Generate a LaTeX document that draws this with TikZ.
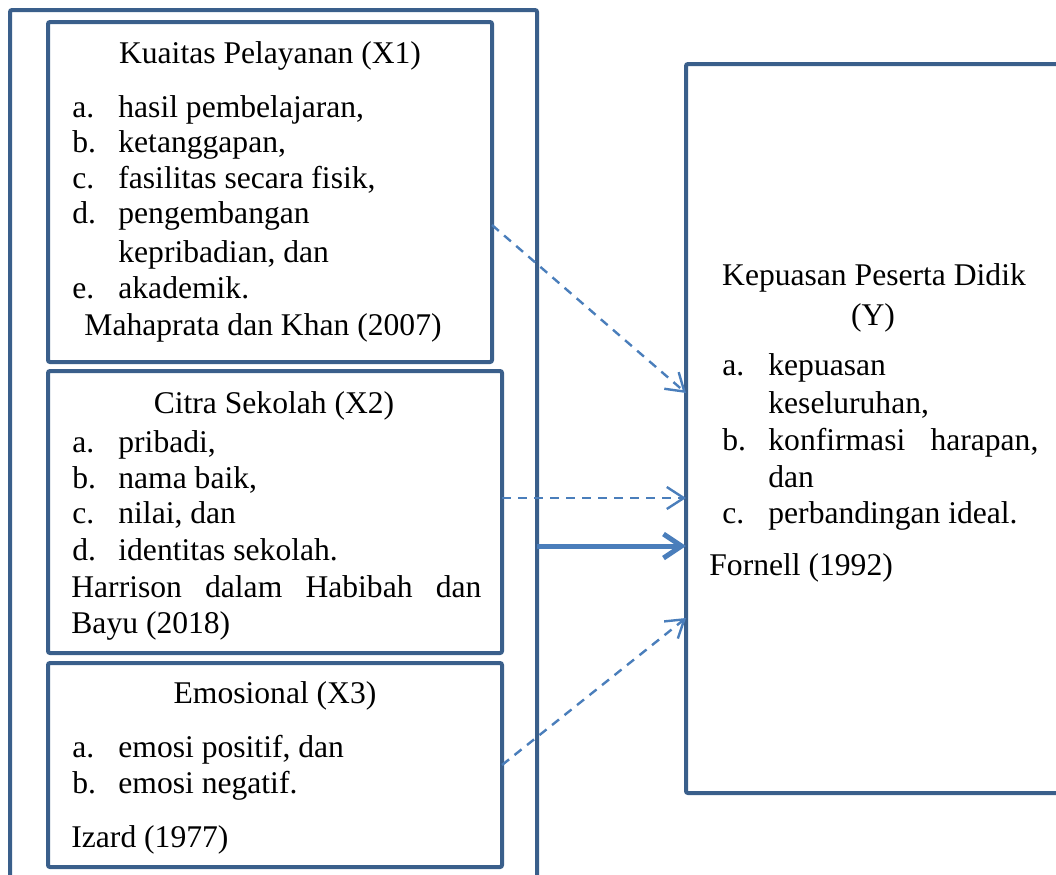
\documentclass[tikz,border=0pt]{standalone}
\usepackage{fontspec}
\setmainfont{Liberation Serif}
\usepackage{xcolor}
\usepackage{tikz}
\usetikzlibrary{arrows.meta}
\definecolor{boxblue}{HTML}{3A5F8B}
\definecolor{arrblue}{HTML}{4A7EBB}
\tikzset{
  box/.style={draw=boxblue, line width=2pt, rounded corners=1pt, rectangle, inner sep=0pt, outer sep=0pt, anchor=north west},
  txt/.style={anchor=base west, inner sep=0pt, font=\fontsize{15.8}{19}\selectfont},
  ttl/.style={anchor=base, inner sep=0pt, font=\fontsize{15.8}{19}\selectfont},
  dashlink/.style={draw=arrblue, line width=1.2pt, dash pattern=on 4.5pt off 3.5pt, -{Straight Barb[length=8.5pt,width=11pt,line width=1.2pt]}},
  mainlink/.style={draw=arrblue, line width=2.5pt, -{Straight Barb[length=9pt,width=12pt,line width=2.5pt]}}
}
\begin{document}
\begin{tikzpicture}[x=0.5pt, y=-0.5pt]
		\useasboundingbox (0,0) rectangle (1056,874);
		\clip (0,0) rectangle (1056,874);
		\node[box, minimum width=263.5pt, minimum height=445pt] (outer) at (10,10) {};
		\node[box, minimum width=222pt, minimum height=170pt] (x1) at (48,22) {};
		\node[box, minimum width=227pt, minimum height=141pt] (x2) at (48,371) {};
		\node[box, minimum width=227pt, minimum height=102pt] (x3) at (48,663) {};
		\node[box, minimum width=207pt, minimum height=364.5pt] (y) at (686,64) {};
		\node[ttl] (x1h) at (270,63) {Kuaitas Pelayanan (X1)};
		\foreach \lab/\itm/\yy [count=\i] in {a./{hasil pembelajaran,}/117, b./{ketanggapan,}/152, c./{fasilitas secara fisik,}/188, d./pengembangan/223, /{kepribadian, dan}/262, e./akademik./298} {
			\node[txt] (x1l\i) at (72,\yy) {\lab};
			\node[txt] (x1t\i) at (118,\yy) {\itm};
		}
		\node[ttl] (x1s) at (263,335) {Mahaprata dan Khan (2007)};
		\node[ttl] (x2h) at (274,413) {Citra Sekolah (X2)};
		\foreach \lab/\itm/\yy [count=\i] in {a./{pribadi,}/452, b./{nama baik,}/488, c./{nilai, dan}/523, d./identitas sekolah./560} {
			\node[txt] (x2l\i) at (72,\yy) {\lab};
			\node[txt] (x2t\i) at (118,\yy) {\itm};
		}
		\node[txt] (x2s) at (71,597) {\makebox[205pt][s]{Harrison dalam Habibah dan}};
		\node[txt] (x2s2) at (71,633) {Bayu (2018)};
		\node[ttl] (x3h) at (275,703) {Emosional (X3)};
		\node[txt] (x3l1) at (72,757) {a.};
		\node[txt] (x3t1) at (118,757) {emosi positif, dan};
		\node[txt] (x3l2) at (72,793) {b.};
		\node[txt] (x3t2) at (118,793) {emosi negatif.};
		\node[txt] (x3s) at (71,847) {Izard (1977)};
		\node[ttl] (yh) at (874,285) {Kepuasan Peserta Didik};
		\node[ttl] (yh2) at (873,325) {(Y)};
		\foreach \lab/\itm/\yy [count=\i] in {a./kepuasan/375, /{keseluruhan,}/413, b./{\makebox[135pt][s]{konfirmasi harapan,}}/450, /dan/487, c./perbandingan ideal./523} {
			\node[txt] (yl\i) at (722,\yy) {\lab};
			\node[txt] (yt\i) at (768,\yy) {\itm};
		}
		\node[txt] (ys) at (709,575) {Fornell (1992)};
		\draw[dashlink] ([yshift=-16.5pt]x1.east) -- ([yshift=17.75pt]y.west);
		\draw[dashlink] ([yshift=7pt]x2.east) -- ([yshift=-34.75pt]y.west);
		\draw[mainlink] ([yshift=-45.5pt]outer.east) -- ([yshift=-58.75pt]y.west);
		\draw[dashlink] (x3.east) -- ([yshift=-94.75pt]y.west);
\end{tikzpicture}
\end{document}
